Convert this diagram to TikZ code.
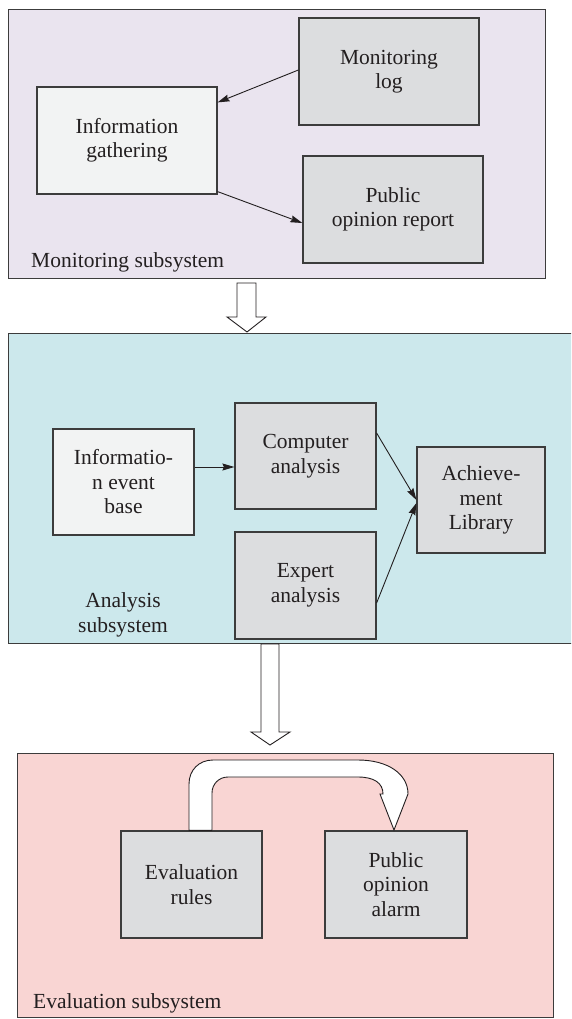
\documentclass[tikz,border=0pt]{standalone}
\usepackage{fontspec}
\setmainfont{Liberation Serif}
\usetikzlibrary{arrows.meta,calc}
\definecolor{monbg}{HTML}{EAE4EF}
\definecolor{anabg}{HTML}{CCE8EC}
\definecolor{evabg}{HTML}{F9D5D3}
\definecolor{boxgray}{HTML}{DCDDDF}
\definecolor{boxlight}{HTML}{F2F3F3}
\definecolor{edgecol}{HTML}{3C3C3C}
\definecolor{inkcol}{HTML}{231F20}
\begin{document}
\begin{tikzpicture}[x=1pt,y=-1pt,
  every node/.style={font=\fontsize{21.5}{24.5}\selectfont, text=inkcol},
  subbox/.style={draw=edgecol, line width=1.2pt, anchor=north west, inner sep=0pt},
  gbox/.style={draw=edgecol, line width=1.2pt, fill=boxgray, align=center, inner sep=0pt},
  lbox/.style={gbox, fill=boxlight},
  conn/.style={draw=inkcol, line width=0.9pt, -{Stealth[length=12pt,width=7pt,inset=1.5pt]}},
  hollow/.style={draw=inkcol, line width=0.9pt, fill=white, line join=miter}]
\useasboundingbox (0,0) rectangle (571,1019);
\clip (0,0) rectangle (571,1019);

% subsystem frames
\node[subbox, fill=monbg, minimum width=537pt, minimum height=269pt] (mon) at (8,9) {};
\node[subbox, fill=anabg, minimum width=580pt, minimum height=310pt] (ana) at (8,333) {};
\node[subbox, fill=evabg, minimum width=536pt, minimum height=264pt] (eva) at (17,753) {};

% monitoring subsystem
\node[gbox, minimum width=180pt, minimum height=107pt] (log) at (389,71.5) {Monitoring\\log};
\node[lbox, minimum width=180pt, minimum height=107pt] (info) at (127,140.5) {Information\\gathering};
\node[gbox, minimum width=180pt, minimum height=107pt] (report) at (393,209.5) {Public\\opinion report};
\node[anchor=base west, inner sep=0pt] (monlab) at (31,267) {Monitoring subsystem};

\draw[conn] ([yshift=1.5pt]log.west) -- ([yshift=-16pt]info.north east);
\draw[conn] ([yshift=3pt]info.south east) -- ([yshift=-13.5pt]report.west);

% analysis subsystem
\node[lbox, minimum width=141pt, minimum height=106pt] (ieb) at (123.5,482) {Informatio-\\n event\\base};
\node[gbox, minimum width=141pt, minimum height=106pt] (comp) at (305.5,456) {Computer\\analysis};
\node[gbox, minimum width=141pt, minimum height=107pt] (expert) at (305.5,585.5) {Expert\\analysis};
\node[gbox, minimum width=128pt, minimum height=106pt] (ach) at (481,500) {Achieve-\\ment\\Library};
\node[align=center, inner sep=0pt] (analab) at (123,615) {Analysis\\subsystem};

\draw[conn] ([yshift=15pt]ieb.east) -- ([yshift=15pt]ieb.east -| comp.west);
\draw[conn] ([yshift=23pt]comp.east) -- (ach.west);
\draw[conn] ([yshift=-17.5pt]expert.east) -- ([yshift=-3pt]ach.west);

% evaluation subsystem
\node[gbox, minimum width=141pt, minimum height=107pt] (rules) at (191.5,884.5) {Evaluation\\rules};
\node[gbox, minimum width=142pt, minimum height=107pt] (alarm) at (396,884.5) {Public\\opinion\\alarm};
\node[anchor=base west, inner sep=0pt] (evalab) at (33,1008) {Evaluation subsystem};

% hollow block arrows between subsystems
\draw[hollow] (237,283) -- (256,283) -- (256,317) -- (266,317) -- (247,332)
  -- (227,317) -- (237,317) -- cycle;
\draw[hollow] (261,644) -- (279,644) -- (279,732) -- (290,732) -- (270,745)
  -- (251,732) -- (261,732) -- cycle;

% curved block arrow from rules to alarm
\draw[hollow] (rules.north -| 189,0) -- (189,784)
  .. controls (189,770) and (199,760) .. (213,760)
  -- (358,760)
  .. controls (388,760) and (408,774) .. (408,794)
  -- (394,830) -- (380,794) -- (383,794)
  .. controls (383,783) and (374,777) .. (358,777)
  -- (228,777)
  .. controls (219,777) and (212,784) .. (212,793)
  -- (rules.north -| 212,0) -- cycle;
\end{tikzpicture}
\end{document}
